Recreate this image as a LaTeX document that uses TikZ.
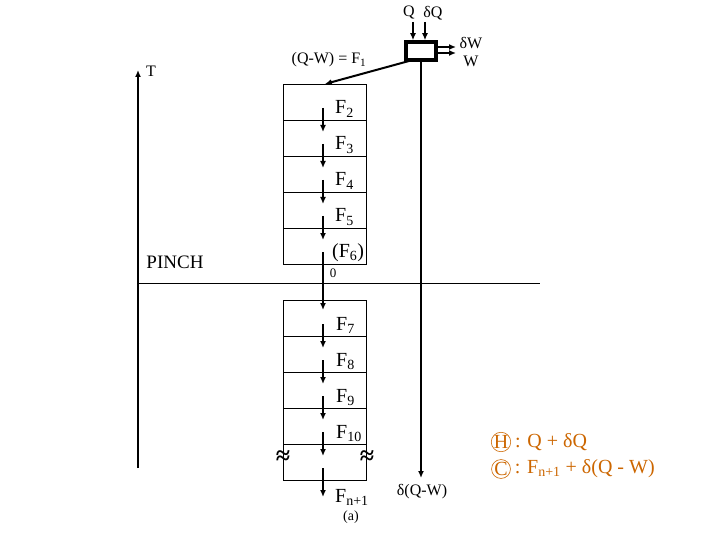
\documentclass[tikz,border=0pt]{standalone}
\usepackage{fontspec}
\setmainfont{Liberation Serif}
\usetikzlibrary{arrows.meta,positioning}
\definecolor{legendorange}{RGB}{204,102,0}

\begin{document}
\begin{tikzpicture}[x=1pt,y=-1pt,
    flow/.style={line width=2pt,-{Latex[length=7pt,width=6pt]}},
    cell/.style={draw,line width=0.8pt,minimum width=83pt,minimum height=36pt,inner sep=0pt,anchor=north west},
    lbl/.style={inner sep=0pt,font=\fontsize{16}{18}\selectfont},
    flbl/.style={inner sep=0pt,anchor=base west,font=\fontsize{20}{22}\selectfont},
    keylbl/.style={inner sep=0pt,text=legendorange,font=\fontsize{20}{22}\selectfont}]
\useasboundingbox (0,0) rectangle (720,540);

% Axis T
\coordinate (tbot) at (138,468);
\coordinate (ttop) at (138,70);
\draw[flow] (tbot) -- (ttop);
\node[lbl,font=\fontsize{16}{18}\selectfont] (tlabel) at (151,71) {T};

% Pinch line
\coordinate (pleft) at (138,283);
\coordinate (pright) at (540,283);
\draw[line width=0.8pt] (pleft) -- (pright);
\node[lbl,font=\fontsize{19}{21}\selectfont] (pinch) at (175,262) {PINCH};

% Engine box
\node[draw,line width=3.5pt,minimum width=30pt,minimum height=18pt,inner sep=0pt] (engine) at (421,51) {};
\coordinate (qin) at (413,22);
\coordinate (dqin) at (425,22);
\draw[flow] (qin) -- (qin |- engine.north);
\draw[flow] (dqin) -- (dqin |- engine.north);
\node[lbl] (qlabel) at (409,13) {Q};
\node[lbl] (dqlabel) at (433,13) {δQ};
\coordinate (dwout) at (456,47);
\coordinate (wout) at (456,53);
\draw[flow] (dwout -| engine.east) -- (dwout);
\draw[flow] (wout -| engine.east) -- (wout);
\node[lbl] (dwlabel) at (471,43) {δW};
\node[lbl] (wlabel) at (471,61) {W};

% Upper cells
\foreach \i/\y in {2/84,3/120,4/156,5/192}{
    \node[cell] (c\i) at (283,\y) {};
    \node[flbl] (f\i) at (335,\y+30) {F\textsubscript{\i}};
    \coordinate (a\i) at (323,\y+24);
    \coordinate (b\i) at (323,\y+48);
    \draw[flow] (a\i) -- (b\i);
}
\node[cell] (c6) at (283,228) {};
\node[flbl] (f6) at (332,257) {(F\textsubscript{6})};
\node[lbl,font=\fontsize{13}{15}\selectfont] (zero) at (333,273) {0};
\coordinate (a6) at (323,252);
\coordinate (b6) at (323,310);
\draw[flow] (a6) -- (b6);

% F1 into top cell
\coordinate (f1start) at (409,61);
\draw[flow] (f1start) -- (c2.north);
\node[lbl] (f1) at (329,60) {(Q-W) = F\textsubscript{1}};

% Lower cells
\foreach \i/\y in {7/300,8/336,9/372,10/408}{
    \node[cell] (c\i) at (283,\y) {};
    \node[flbl] (f\i) at (336,\y+30) {F\textsubscript{\i}};
    \coordinate (a\i) at (323,\y+24);
    \coordinate (b\i) at (323,\y+48);
    \draw[flow] (a\i) -- (b\i);
}
\node[cell] (cn) at (283,444) {};
\node[lbl,font=\bfseries\fontsize{26}{28}\selectfont] (gapl) at (283,458) {≈};
\node[lbl,font=\bfseries\fontsize{26}{28}\selectfont] (gapr) at (367,458) {≈};
\coordinate (an) at (323,468);
\coordinate (bn) at (323,497);
\draw[flow] (an) -- (bn);
\node[flbl] (fn) at (335,502) {F\textsubscript{n+1}};
\node[lbl,font=\fontsize{14}{16}\selectfont,anchor=base] (alabel) at (351,520) {(a)};

% Right branch
\coordinate (dqwend) at (421,478);
\draw[flow] (engine.south) -- (dqwend);
\node[lbl] (dqw) at (422,492) {δ(Q-W)};

% Legend
\node[circle,draw=legendorange,line width=0.6pt,inner sep=0pt,minimum size=16pt,keylbl] (hkey) at (501,442) {H};
\node[keylbl,right=4pt of hkey] (htext) {: Q + δQ};
\node[circle,draw=legendorange,line width=0.6pt,inner sep=0pt,minimum size=16pt,keylbl] (ckey) at (501,469) {C};
\node[keylbl,right=4pt of ckey] (ctext) {: F\textsubscript{n+1} + δ(Q - W)};
\end{tikzpicture}
\end{document}
